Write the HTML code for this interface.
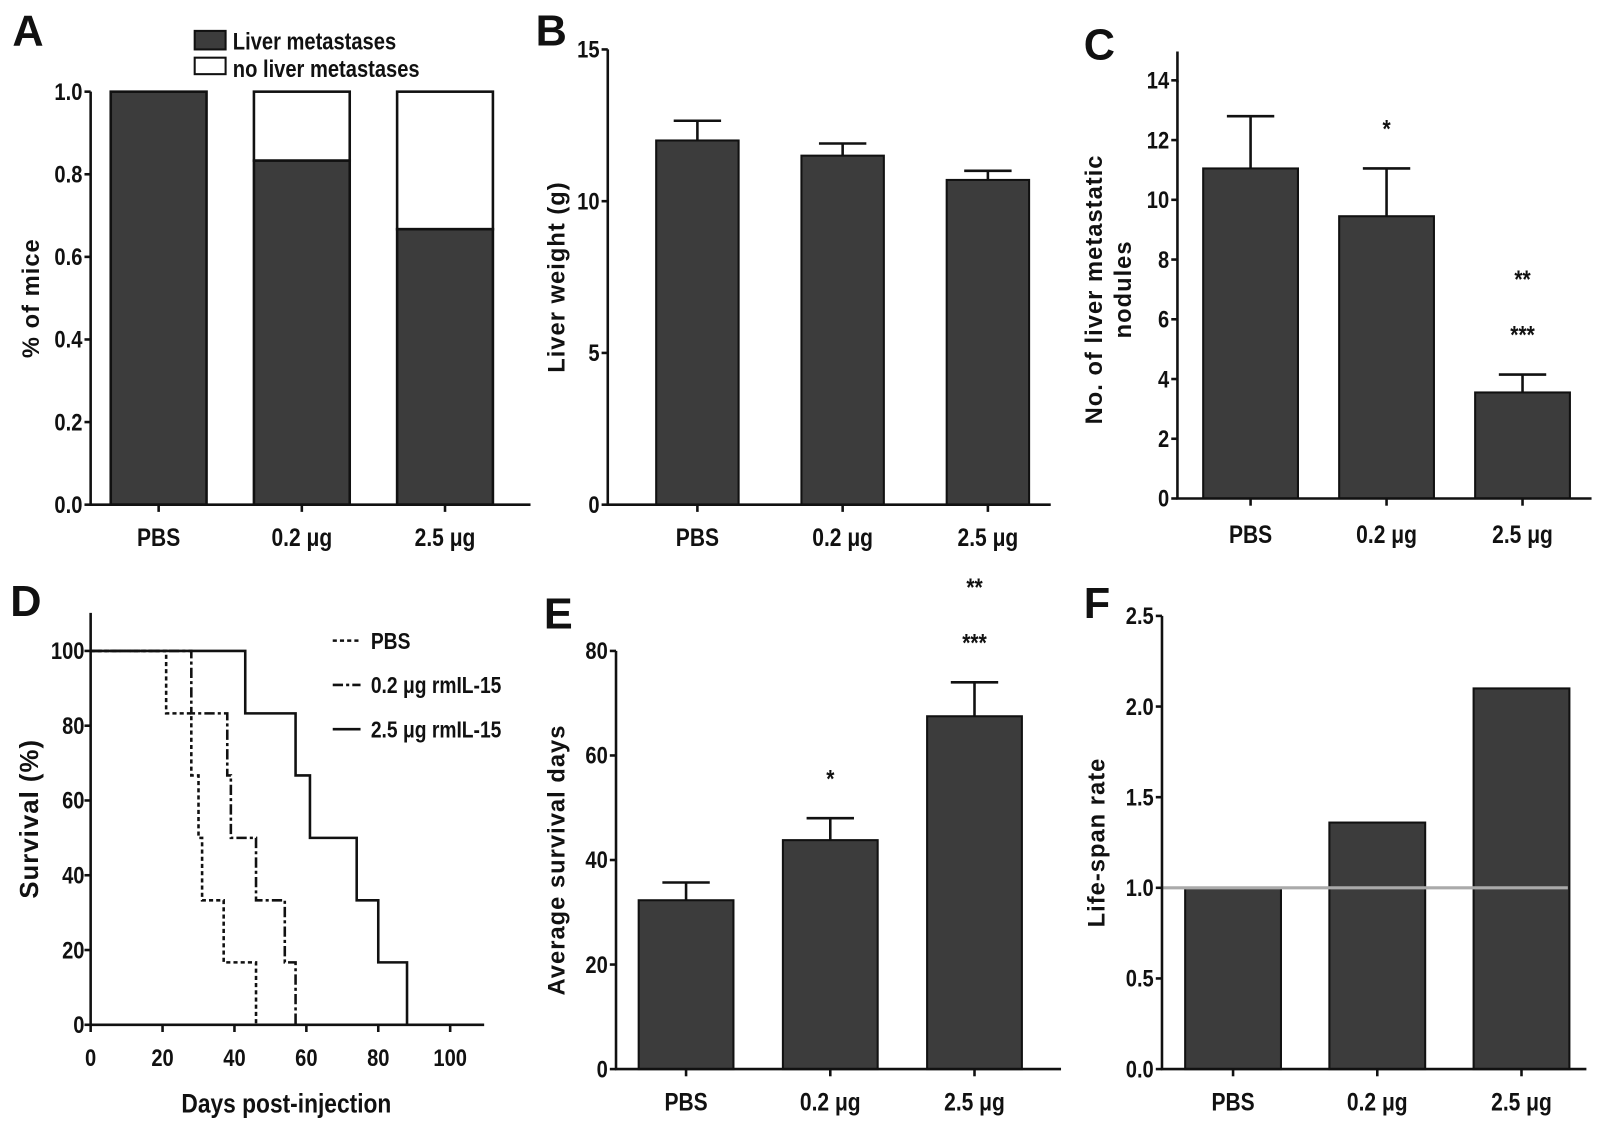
<!DOCTYPE html>
<html><head><meta charset="utf-8"><style>
html,body{margin:0;padding:0;background:#fff;}
svg{display:block;}
text{font-family:"Liberation Sans Narrow","Liberation Sans",sans-serif;font-weight:bold;fill:#111;}
</style></head><body>
<svg id="fig" width="1607" height="1135" viewBox="0 0 1560 1102" preserveAspectRatio="none" xmlns="http://www.w3.org/2000/svg"></svg>
<script>
// ---------- data ----------
const groups = ["PBS", "0.2 μg", "2.5 μg"];
const metYes = [1.0, 0.833, 0.667];
const liverWeight = [12.0, 11.5, 10.7];
const liverWeightErr = [0.65, 0.4, 0.3];
const nodules = [11.05, 9.45, 3.55];
const nodulesErr = [1.75, 1.6, 0.6];
const nodulesStars = ["", "*", "**|***"];
const survDays = [32.3, 43.8, 67.5];
const survErr = [3.4, 4.2, 6.5];
const survStars = ["", "*", "**|***"];
const lifeSpan = [1.0, 1.36, 2.1];
const kmPBS_t = [0, 21, 28, 30, 31, 37, 46];
const kmPBS_s = [100, 83.3, 66.7, 50, 33.3, 16.7, 0];
const kmLow_t = [0, 28, 38, 39, 46, 54, 57];
const kmLow_s = [100, 83.3, 66.7, 50, 33.3, 16.7, 0];
const kmHigh_t = [0, 43, 57, 61, 74, 80, 88];
const kmHigh_s = [100, 83.3, 66.7, 50, 33.3, 16.7, 0];
const ticksA = [0, 0.2, 0.4, 0.6, 0.8, 1.0];
const ticksB = [0, 5, 10, 15];
const ticksC = [0, 2, 4, 6, 8, 10, 12, 14];
const ticksDx = [0, 20, 40, 60, 80, 100];
const ticksDy = [0, 20, 40, 60, 80, 100];
const ticksE = [0, 20, 40, 60, 80];
const ticksF = [0, 0.5, 1.0, 1.5, 2.0, 2.5];

const NS = "http://www.w3.org/2000/svg";
const svg = document.getElementById("fig");
function el(tag, attrs, parent) {
  const e = document.createElementNS(NS, tag);
  for (const k in attrs) e.setAttribute(k, attrs[k]);
  (parent || svg).appendChild(e);
  return e;
}
function txt(x, y, s, size, anchor, parent, rot, sx) {
  const k = sx || 0.85;
  const t = el("text", {x: 0, y: 0, "font-size": size, "text-anchor": anchor || "middle"}, parent);
  t.setAttribute("transform", `translate(${x} ${y})` + (rot ? " rotate(-90)" : "") + ` scale(${k} 1)`);
  t.textContent = s;
  return t;
}

function yAxis(p, ticks, fmt, title, titleX) {
  const g = el("g", {});
  
  
  el("line", {x1: p.x0, y1: p.yTop, x2: p.x0, y2: p.y0 + 1, stroke: "#111", "stroke-width": 2.5}, g);
  ticks.forEach(v => {
    const y = p.sy(v);
    el("line", {x1: p.x0 - 6, y1: y, x2: p.x0, y2: y, stroke: "#111", "stroke-width": 2.5}, g);
    const t = txt(p.x0 - 8, y + 8, fmt(v), 23, "end", g);
    
    
  });
  if (title) {
    const lines = title.split("|");
    lines.forEach((ln, i) => {
      const tx = titleX + i * 28;
      const t = txt(tx, (p.yTop + p.y0) / 2, ln, 23, "middle", g, true, 1);
      
      
      t.setAttribute("style", "font-family:'Liberation Sans',sans-serif;letter-spacing:1px");
    });
  }
}
function xAxisCat(p, labelY) {
  const g = el("g", {});
  
  
  el("line", {x1: p.x0 - 1, y1: p.y0, x2: p.xEnd, y2: p.y0, stroke: "#111", "stroke-width": 2.5}, g);
  groups.forEach((c, i) => {
    const cx = p.cx(i);
    el("line", {x1: cx, y1: p.y0, x2: cx, y2: p.y0 + 7, stroke: "#111", "stroke-width": 2.5}, g);
    const t = txt(cx, labelY, c, 24, "middle", g);
    
    
  });
}
function panel(name, x0, y0, yTop, xEnd, vmax, firstC, stepC, bw) {
  return {name, x0, y0, yTop, xEnd, bw,
    sy: v => y0 - (v / vmax) * (y0 - (yTop)),
    cx: i => firstC + i * stepC};
}
function barSeries(p, vals, errs, stars) {
  vals.forEach((v, i) => {
    const cx = p.cx(i), y = p.sy(v);
    if (errs) {
      const ye = p.sy(v + errs[i]);
      const eb = el("path", {d: `M${cx},${y} V${ye} M${cx - 23},${ye} H${cx + 23}`, stroke: "#111", "stroke-width": 2.5, fill: "none"});
      
      
    }
    const r = el("rect", {x: cx - p.bw / 2, y: y, width: p.bw, height: p.y0 - y, fill: "#3c3c3c", stroke: "#111", "stroke-width": 2});
    
    
    if (stars && stars[i]) {
      const parts = stars[i].split("|");
      const ye = p.sy(v + (errs ? errs[i] : 0));
      parts.slice().reverse().forEach((s, k) => {
        const t = txt(cx, ye - 30 - k * 54, s, 24, "middle");
        
        
      });
    }
  });
}
function letter(s, x, y) {
  const t = txt(x, y, s, 42, "start", null, false, 1);
  t.setAttribute("style", "font-family:'Liberation Sans',sans-serif;font-weight:bold");
  
  
}

// ---------- Panel A ----------
letter("A", 12, 44);
const pA = panel("panel-a", 88, 490, 89, 515, 1.0, 154, 139, 93);
const sw1 = el("rect", {x: 189, y: 30, width: 30, height: 18, fill: "#3c3c3c", stroke: "#111", "stroke-width": 2});


const le1 = txt(226, 48, "Liver metastases", 23, "start");


const sw2 = el("rect", {x: 189, y: 56, width: 30, height: 16, fill: "#fff", stroke: "#111", "stroke-width": 2});


const le2 = txt(226, 75, "no liver metastases", 23, "start");


metYes.forEach((v, i) => {
  const cx = pA.cx(i), yv = pA.sy(v), y1 = pA.sy(1);
  const w = el("rect", {x: cx - pA.bw / 2, y: y1, width: pA.bw, height: yv - y1, fill: "#fff", stroke: "#111", "stroke-width": 2.5});
  
  
  const r = el("rect", {x: cx - pA.bw / 2, y: yv, width: pA.bw, height: pA.y0 - yv, fill: "#3c3c3c", stroke: "#111", "stroke-width": 2.5});
  
  
});
yAxis(pA, ticksA, v => v.toFixed(1), "% of mice", 38);
xAxisCat(pA, 530);

// ---------- Panel B ----------
letter("B", 520, 44);
const pB = panel("panel-b", 590, 490, 48, 1020, 15, 677, 141, 80);
barSeries(pB, liverWeight, liverWeightErr, null);
yAxis(pB, ticksB, v => String(v), "Liver weight (g)", 548);
xAxisCat(pB, 530);

// ---------- Panel C ----------
letter("C", 1052, 58);
const pC = panel("panel-c", 1143, 484, 78, 1545, 14, 1214, 132, 92);
el("line", {x1: 1143, y1: 50, x2: 1143, y2: 80, stroke: "#111", "stroke-width": 2.5});
barSeries(pC, nodules, nodulesErr, nodulesStars);
yAxis(pC, ticksC, v => String(v), "No. of liver metastatic|nodules", 1070);
xAxisCat(pC, 527);

// ---------- Panel D (Kaplan-Meier) ----------
letter("D", 10, 598);
const D = {x0: 88, y0: 995, yTop: 595, xEnd: 470,
  sx: t => 88 + t / 100 * (437 - 88),
  sy: s => 995 - s / 100 * (995 - 632)};
function km(ts, ss, dash, name) {
  let d = `M${D.sx(ts[0])},${D.sy(ss[0])}`;
  for (let i = 1; i < ts.length; i++) {
    d += ` H${D.sx(ts[i])} V${D.sy(ss[i])}`;
  }
  const p = el("path", {d: d, fill: "none", stroke: "#111", "stroke-width": 2.5, "stroke-dasharray": dash});
  
  
}
km(kmPBS_t, kmPBS_s, "4,3", "survival-line-pbs");
km(kmLow_t, kmLow_s, "10,3,3,3", "survival-line-0-2ug");
km(kmHigh_t, kmHigh_s, "", "survival-line-2-5ug");
{
  const g = el("g", {});
  
  
  el("line", {x1: D.x0, y1: D.yTop, x2: D.x0, y2: D.y0 + 1, stroke: "#111", "stroke-width": 2.5}, g);
  el("line", {x1: D.x0 - 1, y1: D.y0, x2: D.xEnd, y2: D.y0, stroke: "#111", "stroke-width": 2.5}, g);
  ticksDy.forEach(v => {
    el("line", {x1: D.x0 - 6, y1: D.sy(v), x2: D.x0, y2: D.sy(v), stroke: "#111", "stroke-width": 2.5}, g);
    txt(D.x0 - 6, D.sy(v) + 8, String(v), 23, "end", g);
  });
  ticksDx.forEach(v => {
    el("line", {x1: D.sx(v), y1: D.y0, x2: D.sx(v), y2: D.y0 + 7, stroke: "#111", "stroke-width": 2.5}, g);
    txt(D.sx(v), D.y0 + 40, String(v), 23, "middle", g);
  });
  const t1 = txt(278, 1080, "Days post-injection", 26, "middle", g);
  
  
  const t2 = txt(37, 795, "Survival (%)", 25, "middle", g, true, 1);
  t2.setAttribute("style", "font-family:'Liberation Sans',sans-serif;letter-spacing:1px");
  
  
  const lg = el("g", {}, g);
  
  
  [["4,3", "PBS", 622], ["10,3,3,3", "0.2 μg rmIL-15", 665], ["", "2.5 μg rmIL-15", 708]].forEach(([d, s, y]) => {
    el("line", {x1: 323, y1: y, x2: 350, y2: y, stroke: "#111", "stroke-width": 2.5, "stroke-dasharray": d}, lg);
    txt(360, y + 8, s, 22, "start", lg);
  });
}

// ---------- Panel E ----------
letter("E", 528, 610);
const pE = panel("panel-e", 598, 1038, 632, 1030, 80, 666, 140, 92);
barSeries(pE, survDays, survErr, survStars);
yAxis(pE, ticksE, v => String(v), "Average survival days", 548);
xAxisCat(pE, 1078);

// ---------- Panel F ----------
letter("F", 1052, 600);
const pF = panel("panel-f", 1128, 1038, 598, 1540, 2.5, 1197, 140, 93);
barSeries(pF, lifeSpan, null, null);
const ref = el("line", {x1: pF.x0, y1: pF.sy(1), x2: 1522, y2: pF.sy(1), stroke: "#aaa", "stroke-width": 3});


yAxis(pF, ticksF, v => v.toFixed(1), "Life-span rate", 1072);
xAxisCat(pF, 1078);
</script>
</body></html>
